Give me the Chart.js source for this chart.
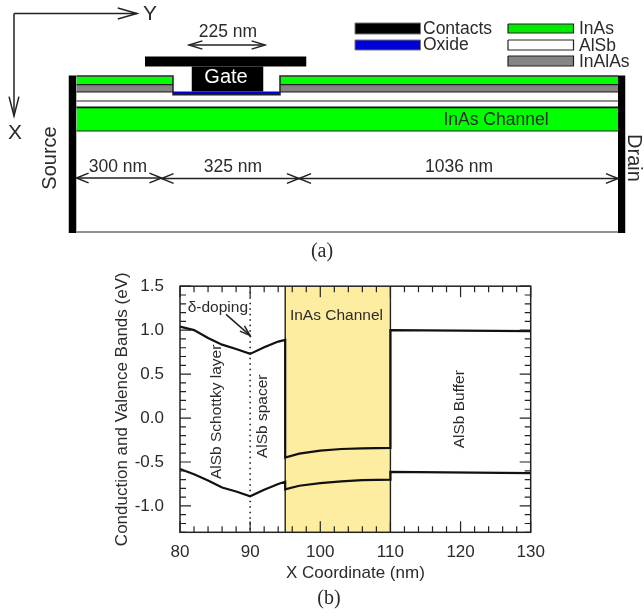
<!DOCTYPE html>
<html>
<head>
<meta charset="utf-8">
<title>InAs channel device and band diagram</title>
<script src="https://cdn.jsdelivr.net/npm/chart.js@4"></script>
<style>
body { margin: 0; background: #fff; }
canvas { position: absolute; left: 0; }
#esquema { top: 0; }
#bandas { top: 268px; }
</style>
</head>
<body>
<canvas id="esquema" width="644" height="268"></canvas>
<canvas id="bandas" width="644" height="348"></canvas>
<script>
// panel (b) values
const xCoord = [80, 82, 84, 86, 88, 90, 92, 94, 95, 95, 97, 100, 103, 106, 110, 110, 130];
const conductionBand = [1.04, 1.0, 0.91, 0.835, 0.785, 0.73, 0.805, 0.87, 0.89, -0.45, -0.405, -0.37, -0.352, -0.345, -0.34, 1.0, 0.99];
const valenceBand = [-0.58, -0.64, -0.71, -0.79, -0.835, -0.89, -0.815, -0.75, -0.725, -0.81, -0.77, -0.74, -0.72, -0.707, -0.70, -0.612, -0.627];
const xTicks = [80, 90, 100, 110, 120, 130];
const yTicks = [-1.0, -0.5, 0.0, 0.5, 1.0, 1.5];
const channelStart = 95;
const channelEnd = 110;
const dopingAt = 90;

// panel (a) labels
const legendLeft = ['Contacts', 'Oxide'];
const legendRight = ['InAs', 'AlSb', 'InAlAs'];
const lengths = ['225 nm', '300 nm', '325 nm', '1036 nm'];

const SANS = '"Liberation Sans", Arial, sans-serif';
const SERIF = '"Liberation Serif", "Times New Roman", serif';
const INK = '#2b2b2b';
const LINE = '#222222';
const GREEN = '#00ff00';
const GREEN_KEY = '#00ea00';
const GRAY = '#858585';
const BLUE = '#0000d8';
const YELLOW = '#fdeda0';

function poly(points, width, color, dash) {
    return {
        data: points.map(p => ({ x: p[0], y: p[1] })),
        borderColor: color,
        borderWidth: width,
        borderDash: dash || [],
        pointRadius: 0,
        tension: 0,
        fill: false,
        clip: false
    };
}

function fillBox(x0, x1, y0, y1, color) {
    return {
        data: [{ x: x0, y: y0 }, { x: x1, y: y0 }],
        backgroundColor: color,
        borderWidth: 0,
        pointRadius: 0,
        tension: 0,
        fill: { target: { value: y1 } },
        clip: false
    };
}

function outlined(x0, x1, y0, y1, color, edge, width) {
    return [
        fillBox(x0, x1, y0, y1, color),
        poly([[x0, y0], [x1, y0], [x1, y1], [x0, y1], [x0, y0]], width, edge)
    ];
}

function text(ctx, str, x, y, font, color, angle, align) {
    ctx.save();
    ctx.translate(x, y);
    if (angle) ctx.rotate(angle);
    ctx.font = font;
    ctx.fillStyle = color || INK;
    ctx.textAlign = align || 'center';
    ctx.textBaseline = 'middle';
    ctx.fillText(str, 0, 0);
    ctx.restore();
}

// open arrow head at (x1, y1), pointing away from (x0, y0)
function head(ctx, x0, y0, x1, y1, size, spread) {
    const a = Math.atan2(y1 - y0, x1 - x0);
    ctx.beginPath();
    ctx.moveTo(x1 - size * Math.cos(a - spread), y1 - size * Math.sin(a - spread));
    ctx.lineTo(x1, y1);
    ctx.lineTo(x1 - size * Math.cos(a + spread), y1 - size * Math.sin(a + spread));
    ctx.stroke();
}

function arrow(ctx, x0, y0, x1, y1, both, size, spread) {
    size = size || 13;
    spread = spread || 0.38;
    ctx.strokeStyle = LINE;
    ctx.lineWidth = 1.5;
    ctx.beginPath();
    ctx.moveTo(x0, y0);
    ctx.lineTo(x1, y1);
    ctx.stroke();
    head(ctx, x0, y0, x1, y1, size, spread);
    if (both) head(ctx, x1, y1, x0, y0, size, spread);
}

// ---- panel (a), scales are in picture units of the schematic
const L = 76.5;
const R = 618;
const recessL = 173;
const recessR = 280;

const paintOrder = [
    // layers
    fillBox(L, R, 108, 131, GREEN),
    fillBox(L, recessL, 76.5, 84.5, GREEN),
    fillBox(recessR, R, 76.5, 84.5, GREEN),
    fillBox(L, recessL, 85, 91.5, GRAY),
    fillBox(recessR, R, 85, 91.5, GRAY),
    fillBox(recessL, recessR, 91.5, 94.3, BLUE),
    // gate
    fillBox(145, 306.5, 56.5, 66.5, '#000'),
    fillBox(191.5, 263.5, 66.5, 91.5, '#000'),
    // contacts
    fillBox(68.5, L, 75.5, 233, '#000'),
    fillBox(R, 625.5, 75.5, 233, '#000'),
    // layer edges
    poly([[L, 76], [recessL, 76], [recessL, 94.8], [recessR, 94.8], [recessR, 76], [R, 76]], 1.5, LINE),
    poly([[L, 84.7], [recessL, 84.7]], 1.2, LINE),
    poly([[recessR, 84.7], [R, 84.7]], 1.2, LINE),
    poly([[L, 91.8], [recessL, 91.8]], 1.2, LINE),
    poly([[recessR, 91.8], [R, 91.8]], 1.2, LINE),
    poly([[L, 101], [R, 101]], 1.2, LINE),
    poly([[L, 107.4], [R, 107.4]], 1.8, '#111'),
    poly([[L, 131], [R, 131]], 1.2, LINE),
    poly([[L, 232], [R, 232]], 1.2, LINE),
    // legend swatches
    ...outlined(355, 420.5, 23, 34, '#000', '#777', 1),
    ...outlined(355, 420.5, 40, 50, BLUE, '#777', 1),
    ...outlined(508, 573.5, 24, 33, GREEN_KEY, LINE, 1.2),
    ...outlined(508, 573.5, 40, 50, '#fff', LINE, 1.2),
    ...outlined(508, 573.5, 56, 66, GRAY, LINE, 1.2)
];

const schematicText = {
    id: 'schematicText',
    afterDatasetsDraw(chart) {
        const ctx = chart.ctx;
        const label = SANS;
        const big = '17.5px ' + label;

        arrow(ctx, 14, 13.5, 137, 13.5, false, 20, 0.28);
        arrow(ctx, 14, 13.5, 14, 116, false, 20, 0.25);
        text(ctx, 'Y', 150, 14, '21px ' + label);
        text(ctx, 'X', 15, 133, '21px ' + label);

        arrow(ctx, 189, 45, 265, 45, true, 14, 0.3);
        text(ctx, lengths[0], 228, 32, big);
        text(ctx, 'Gate', 226, 77, '20px ' + label, '#fff');

        arrow(ctx, L, 178, 161.5, 178, true);
        arrow(ctx, 161.5, 178.5, 299, 178.5, true);
        arrow(ctx, 299, 178.5, R, 178.5, true);
        text(ctx, lengths[1], 118, 167, big);
        text(ctx, lengths[2], 233, 167, big);
        text(ctx, lengths[3], 459, 167, big);

        text(ctx, 'InAs Channel', 496, 120, big);
        text(ctx, 'Source', 50, 158, '20px ' + label, INK, -Math.PI / 2);
        text(ctx, 'Drain', 634, 158, '20px ' + label, INK, Math.PI / 2);

        text(ctx, legendLeft[0], 423, 29, big, INK, 0, 'left');
        text(ctx, legendLeft[1], 423, 45, big, INK, 0, 'left');
        text(ctx, legendRight[0], 579, 29, big, INK, 0, 'left');
        text(ctx, legendRight[1], 579, 46, big, INK, 0, 'left');
        text(ctx, legendRight[2], 579, 62, big, INK, 0, 'left');

        text(ctx, '(a)', 322, 252, '20px ' + SERIF);
    }
};

new Chart(document.getElementById('esquema'), {
    type: 'line',
    data: { datasets: paintOrder.slice().reverse() },
    options: {
        responsive: false,
        animation: false,
        plugins: { legend: { display: false }, tooltip: { enabled: false } },
        scales: {
            x: { type: 'linear', min: 0, max: 644, display: false },
            y: { min: 0, max: 268, reverse: true, display: false }
        }
    },
    plugins: [schematicText]
});

// ---- panel (b)
const xMin = 80, xMax = 130, yMin = -1.3, yMax = 1.5;

const bandSeries = (values) => poly(xCoord.map((x, i) => [x, values[i]]), 2.2, '#111');

const bandOrder = [
    fillBox(channelStart, channelEnd, yMax, yMin, YELLOW),
    poly([[channelStart, yMax], [channelStart, yMin]], 1.4, LINE),
    poly([[channelEnd, yMax], [channelEnd, yMin]], 1.4, LINE),
    poly([[dopingAt, yMax], [dopingAt, yMin]], 1.5, '#111', [1.5, 4]),
    bandSeries(conductionBand),
    bandSeries(valenceBand)
];

const frameAndNotes = {
    id: 'frameAndNotes',
    afterDatasetsDraw(chart) {
        const ctx = chart.ctx;
        const sx = chart.scales.x;
        const sy = chart.scales.y;
        const a = chart.chartArea;

        ctx.strokeStyle = LINE;
        ctx.lineWidth = 1.2;
        ctx.beginPath();
        for (let v = xMin; v <= xMax; v += 2) {
            const px = sx.getPixelForValue(v);
            const len = xTicks.includes(v) ? 11 : 6;
            ctx.moveTo(px, a.bottom);
            ctx.lineTo(px, a.bottom - len);
            ctx.moveTo(px, a.top);
            ctx.lineTo(px, a.top + len);
        }
        for (let i = 0; i <= 28; i++) {
            const v = Math.round((yMin + i * 0.1) * 10) / 10;
            const px = sy.getPixelForValue(v);
            const len = yTicks.includes(v) ? 11 : 6;
            ctx.moveTo(a.left, px);
            ctx.lineTo(a.left + len, px);
            ctx.moveTo(a.right, px);
            ctx.lineTo(a.right - len, px);
        }
        ctx.stroke();
        ctx.lineWidth = 1.5;
        ctx.strokeRect(a.left, a.top, a.right - a.left, a.bottom - a.top);

        const note = '15.5px ' + SANS;
        const up = -Math.PI / 2;
        text(ctx, 'InAs Channel', sx.getPixelForValue(102.3), sy.getPixelForValue(1.168), note);
        text(ctx, 'δ-doping', sx.getPixelForValue(85.4), sy.getPixelForValue(1.26), note);
        text(ctx, 'AlSb Schottky layer', sx.getPixelForValue(85.3), sy.getPixelForValue(0.07), note, INK, up);
        text(ctx, 'AlSb spacer', sx.getPixelForValue(91.8), sy.getPixelForValue(0.02), note, INK, up);
        text(ctx, 'AlSb Buffer', sx.getPixelForValue(119.9), sy.getPixelForValue(0.1), note, INK, up);
        arrow(ctx, sx.getPixelForValue(86.56), sy.getPixelForValue(1.18),
            sx.getPixelForValue(89.98), sy.getPixelForValue(0.94), false, 11, 0.32);

        text(ctx, '(b)', 329, 331, '20px ' + SERIF);
    }
};

new Chart(document.getElementById('bandas'), {
    type: 'line',
    data: { datasets: bandOrder.slice().reverse() },
    options: {
        responsive: false,
        animation: false,
        layout: { padding: { top: 17, right: 113.3, left: 0, bottom: 0 } },
        plugins: { legend: { display: false }, tooltip: { enabled: false } },
        scales: {
            x: {
                type: 'linear',
                min: xMin,
                max: xMax,
                grid: { display: false },
                border: { display: false },
                afterBuildTicks: s => { s.ticks = xTicks.map(v => ({ value: v })); },
                afterFit: s => { s.height = 83.7; },
                ticks: {
                    autoSkip: false,
                    maxRotation: 0,
                    padding: 2,
                    color: INK,
                    font: { family: 'Liberation Sans', size: 17 }
                },
                title: {
                    display: true,
                    text: 'X Coordinate (nm)',
                    color: INK,
                    font: { family: 'Liberation Sans', size: 17 },
                    padding: { top: 0, bottom: 32 }
                }
            },
            y: {
                min: yMin,
                max: yMax,
                grid: { display: false },
                border: { display: false },
                afterBuildTicks: s => { s.ticks = yTicks.map(v => ({ value: v })); },
                afterFit: s => { s.width = 180; },
                ticks: {
                    autoSkip: false,
                    padding: 8,
                    color: INK,
                    font: { family: 'Liberation Sans', size: 17 },
                    callback: v => v.toFixed(1)
                },
                title: {
                    display: true,
                    text: 'Conduction and Valence Bands (eV)',
                    color: INK,
                    font: { family: 'Liberation Sans', size: 17 },
                    padding: { top: 112, bottom: 0 }
                }
            }
        }
    },
    plugins: [frameAndNotes]
});
</script>
</body>
</html>
